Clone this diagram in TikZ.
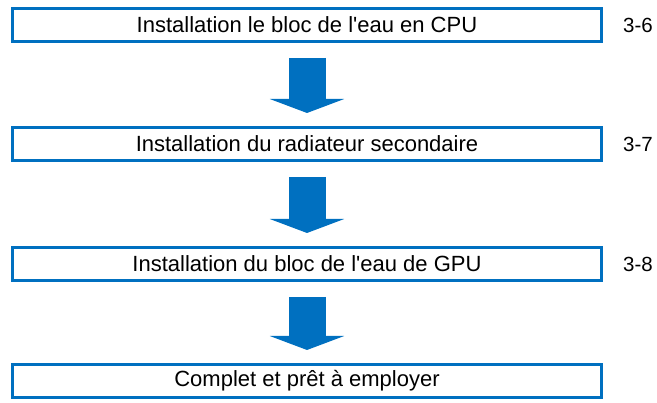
\documentclass[tikz,border=0pt]{standalone}
\usepackage{fontspec}
\setmainfont{Liberation Sans}
\usetikzlibrary{positioning,arrows.meta}

\definecolor{stepblue}{RGB}{0,112,192}
\tikzset{
  stepbox/.style = {draw = stepblue, line width = 3pt, minimum width = 589pt,
                    minimum height = 33pt, inner sep = 0pt, fill = white,
                    font = \fontsize{22}{25}\selectfont},
  pagenum/.style = {inner sep = 0pt, anchor = west,
                    font = \fontsize{20.5}{24}\selectfont},
  flowarrow/.style = {draw = stepblue, line width = 37pt,
                      -{Triangle[width = 74pt, length = 14pt]}}
}

\begin{document}
\begin{tikzpicture}[x = 1pt, y = 1pt]
\useasboundingbox (0,0) rectangle (657,-403);

% the four steps
\node[stepbox] (b1) at (307,-25) {Installation le bloc de l\textquotesingle eau en CPU};
\node[stepbox, below = 83pt of b1] (b2) {Installation du radiateur secondaire};
\node[stepbox, below = 84pt of b2] (b3) {Installation du bloc de l\textquotesingle eau de GPU};
\node[stepbox, below = 81pt of b3] (b4) {Complet et pr\^et \`a employer};

% page references
\node[pagenum, right = 20pt of b1] (p1) {3-6};
\node[pagenum, right = 20pt of b2] (p2) {3-7};
\node[pagenum, right = 20pt of b3] (p3) {3-8};

% arrows between the steps
\foreach \a/\b in {b1/b2, b2/b3, b3/b4}
{
  \draw[flowarrow] ([yshift = -15pt]\a.south) -- ([yshift = 13pt]\b.north);
}
\end{tikzpicture}
\end{document}
